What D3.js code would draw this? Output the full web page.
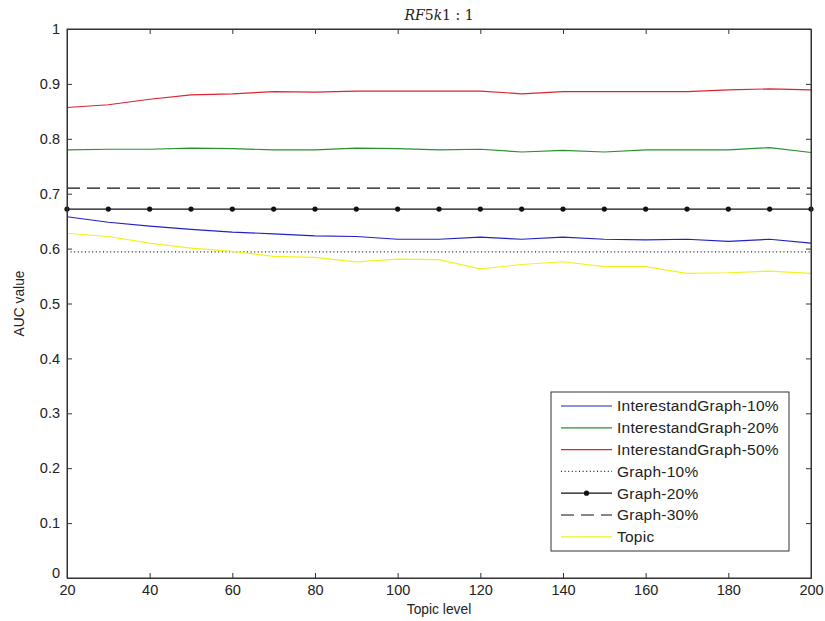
<!DOCTYPE html>
<html>
<head>
<meta charset="utf-8">
<script src="https://cdn.jsdelivr.net/npm/d3@7"></script>
<style>
  body { margin: 0; background: #fff; }
  svg { display: block; font-family: "Liberation Sans", Arial, sans-serif; }
</style>
</head>
<body>
<svg id="chart" width="825" height="621"></svg>
<script>
// topic levels (x values)
const topicLevels = [20, 30, 40, 50, 60, 70, 80, 90, 100, 110, 120, 130, 140, 150, 160, 170, 180, 190, 200];

// AUC per series
const interest10 = [0.658, 0.648, 0.641, 0.635, 0.630, 0.627, 0.623, 0.622, 0.617, 0.617, 0.621, 0.617, 0.621, 0.617, 0.616, 0.617, 0.613, 0.617, 0.610];
const interest20 = [0.780, 0.781, 0.781, 0.783, 0.782, 0.780, 0.780, 0.783, 0.782, 0.780, 0.781, 0.776, 0.779, 0.776, 0.780, 0.780, 0.780, 0.784, 0.775];
const interest50 = [0.857, 0.862, 0.872, 0.880, 0.882, 0.886, 0.885, 0.887, 0.887, 0.887, 0.887, 0.882, 0.886, 0.886, 0.886, 0.886, 0.889, 0.891, 0.889];
const graph10 = [0.594, 0.594, 0.594, 0.594, 0.594, 0.594, 0.594, 0.594, 0.594, 0.594, 0.594, 0.594, 0.594, 0.594, 0.594, 0.594, 0.594, 0.594, 0.594];
const graph20 = [0.672, 0.672, 0.672, 0.672, 0.672, 0.672, 0.672, 0.672, 0.672, 0.672, 0.672, 0.672, 0.672, 0.672, 0.672, 0.672, 0.672, 0.672, 0.672];
const graph30 = [0.710, 0.710, 0.710, 0.710, 0.710, 0.710, 0.710, 0.710, 0.710, 0.710, 0.710, 0.710, 0.710, 0.710, 0.710, 0.710, 0.710, 0.710, 0.710];
const topic = [0.628, 0.622, 0.610, 0.601, 0.595, 0.586, 0.584, 0.576, 0.581, 0.580, 0.563, 0.571, 0.576, 0.567, 0.567, 0.555, 0.556, 0.559, 0.555];

const xTicks = [20, 40, 60, 80, 100, 120, 140, 160, 180, 200];
const yTicks = [0, 0.1, 0.2, 0.3, 0.4, 0.5, 0.6, 0.7, 0.8, 0.9, 1];

const series = [
    { name: "InterestandGraph-10%", values: interest10, colour: "#2222c4", dash: null, marker: false },
    { name: "InterestandGraph-20%", values: interest20, colour: "#2a902f", dash: null, marker: false },
    { name: "InterestandGraph-50%", values: interest50, colour: "#dd2430", dash: null, marker: false },
    { name: "Graph-10%", values: graph10, colour: "#222", dash: "1,2.6", marker: false },
    { name: "Graph-20%", values: graph20, colour: "#111", dash: null, marker: true },
    { name: "Graph-30%", values: graph30, colour: "#111", dash: "13,7", marker: false },
    { name: "Topic", values: topic, colour: "#f2f222", dash: null, marker: false }
];

const svg = d3.select("#chart");
const plotLeft = 67, plotRight = 811, plotTop = 29, plotBottom = 578;
const axisColour = "#333";
const tickFont = 14.5;

const x = d3.scaleLinear().domain([20, 200]).range([plotLeft, plotRight]);
const y = d3.scaleLinear().domain([0, 1]).range([plotBottom, plotTop]);

// the lines
const line = d3.line()
    .x((d, i) => x(topicLevels[i]))
    .y(d => y(d));

series.forEach(s => {
    svg.append("path")
        .datum(s.values)
        .attr("d", line)
        .attr("fill", "none")
        .attr("stroke", s.colour)
        .attr("stroke-width", 1.2)
        .attr("stroke-dasharray", s.dash);

    if (s.marker) {
        svg.append("g")
            .selectAll("circle")
            .data(s.values)
            .join("circle")
            .attr("cx", (d, i) => x(topicLevels[i]))
            .attr("cy", d => y(d))
            .attr("r", 2.6)
            .attr("fill", s.colour);
    }
});

// axes, matlab style: ticks pointing in, box all round
const tickLen = 5;
svg.append("g")
    .attr("transform", `translate(0,${plotBottom})`)
    .call(d3.axisBottom(x).tickValues(xTicks).tickSizeInner(-tickLen).tickSizeOuter(0).tickPadding(7))
    .call(g => g.selectAll("text").attr("font-size", tickFont).attr("fill", "#222").attr("font-family", "Liberation Sans, Arial"));

svg.append("g")
    .attr("transform", `translate(0,${plotTop})`)
    .call(d3.axisTop(x).tickValues(xTicks).tickSizeInner(-tickLen).tickSizeOuter(0).tickFormat(""));

svg.append("g")
    .attr("transform", `translate(${plotLeft},0)`)
    .call(d3.axisLeft(y).tickValues(yTicks).tickSizeInner(-tickLen).tickSizeOuter(0).tickPadding(7).tickFormat(d3.format("~g")))
    .call(g => g.selectAll("text").attr("font-size", tickFont).attr("fill", "#222").attr("font-family", "Liberation Sans, Arial"))
    .call(g => g.selectAll(".tick").filter(d => d === 0).select("text").attr("dy", "-0.05em"));

svg.append("g")
    .attr("transform", `translate(${plotRight},0)`)
    .call(d3.axisRight(y).tickValues(yTicks).tickSizeInner(-tickLen).tickSizeOuter(0).tickFormat(""));

svg.selectAll(".domain, .tick line").attr("stroke", axisColour);

// box
svg.append("rect")
    .attr("x", plotLeft).attr("y", plotTop)
    .attr("width", plotRight - plotLeft).attr("height", plotBottom - plotTop)
    .attr("fill", "none")
    .attr("stroke", axisColour);

// title
const title = svg.append("text")
    .attr("x", (plotLeft + plotRight) / 2)
    .attr("y", 20)
    .attr("text-anchor", "middle")
    .attr("font-size", 14)
    .attr("font-family", "DejaVu Serif, serif")
    .attr("fill", "#222");
title.append("tspan").attr("font-style", "italic").text("RF");
title.append("tspan").text("5");
title.append("tspan").attr("font-style", "italic").text("k");
title.append("tspan").text("1 : 1");

// axis labels
svg.append("text")
    .attr("x", (plotLeft + plotRight) / 2)
    .attr("y", 614)
    .attr("text-anchor", "middle")
    .attr("font-size", 13.8)
    .attr("fill", "#222")
    .text("Topic level");

svg.append("text")
    .attr("transform", `translate(24,${(plotTop + plotBottom) / 2}) rotate(-90)`)
    .attr("text-anchor", "middle")
    .attr("font-size", 13.8)
    .attr("fill", "#222")
    .text("AUC value");

// legend
const legend = svg.append("g");
legend.append("rect")
    .attr("x", 551).attr("y", 392)
    .attr("width", 238).attr("height", 159)
    .attr("fill", "#fff")
    .attr("stroke", axisColour);

const rows = legend.selectAll("g.row")
    .data(series)
    .join("g")
    .attr("class", "row")
    .attr("transform", (d, i) => `translate(0,${406 + i * 21.8})`);

rows.append("line")
    .attr("x1", 561).attr("x2", 612)
    .attr("stroke", d => d.colour)
    .attr("stroke-width", 1.2)
    .attr("stroke-dasharray", d => d.dash);

rows.filter(d => d.marker)
    .append("circle")
    .attr("cx", 586.5).attr("r", 2.6)
    .attr("fill", d => d.colour);

rows.append("text")
    .attr("x", 617)
    .attr("dy", "0.35em")
    .attr("font-size", 15.5)
    .attr("letter-spacing", 0.25)
    .attr("fill", "#222")
    .text(d => d.name);
</script>
</body>
</html>
